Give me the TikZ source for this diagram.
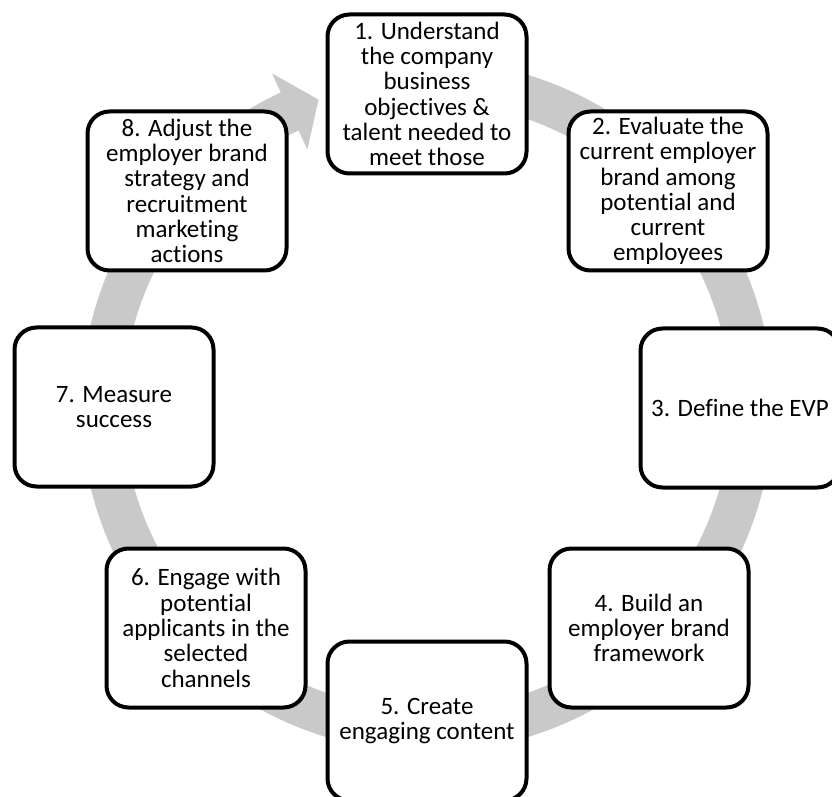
\documentclass[tikz,border=0pt]{standalone}
\usepackage{fontspec}
\setmainfont{Carlito}[Ligatures=NoCommon]
\usepackage{xcolor}
\usepackage{tikz}
\definecolor{ringgray}{RGB}{201,201,201}

\begin{document}
\begin{tikzpicture}[
  x=1pt, y=1pt,
  box/.style={draw=black, fill=white, line width=4pt, rounded corners=22pt,
              align=center, font=\fontsize{25}{25.3}\selectfont, inner sep=2pt,
              minimum width=199pt, minimum height=159pt},
  ring/.style={fill=ringgray},
]
\useasboundingbox (0,0) rectangle (832,796);
\fill[white] (0,0) rectangle (832,796);

\begin{scope}[shift={(427,390)}]
\fill[ring] (85:346) arc[start angle=85, end angle=-245, radius=346]
  -- (-245:367) -- (-250.5:325) -- (-245:283) -- (-245:304)
  arc[start angle=-245, end angle=85, radius=304] -- cycle;
\end{scope}

\node[box] (s1) at (427,702) {1. Understand\\the company\\business\\objectives \&\\talent needed to\\meet those};
\node[box] (s2) at (668,605) {2. Evaluate the\\current employer\\brand among\\potential and\\current\\employees};
\node[box] (s3) at (740,388) {3. Define the EVP};
\node[box] (s4) at (649,168) {4. Build an\\employer brand\\framework};
\node[box] (s5) at (427,75) {5. Create\\engaging content};
\node[box] (s6) at (206,168) {6. Engage with\\potential\\applicants in the\\selected\\channels};
\node[box] (s7) at (114,389) {7. Measure\\success};
\node[box] (s8) at (187,605) {8. Adjust the\\employer brand\\strategy and\\recruitment\\marketing\\actions};
\end{tikzpicture}
\end{document}
